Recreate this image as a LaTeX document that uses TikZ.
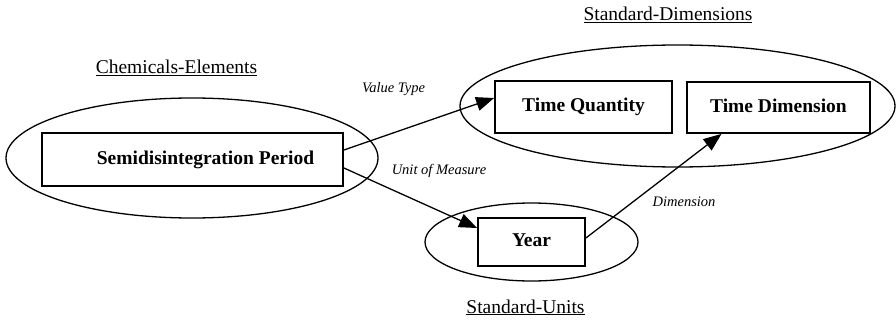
\documentclass[tikz,border=0pt]{standalone}
\usepackage{fontspec}
\setmainfont{Liberation Serif}
\usetikzlibrary{arrows.meta,shapes.geometric}
\begin{document}
\begin{tikzpicture}[x=1pt,y=-1pt,
  grp/.style={draw, ellipse, line width=1.3pt, inner sep=0pt},
  box/.style={draw, line width=1.8pt, inner sep=0pt, text height=13pt, text depth=4pt, font=\fontsize{19.5}{22}\selectfont\bfseries},
  lbl/.style={inner sep=0pt, anchor=base, font=\fontsize{19.5}{22}\selectfont},
  elbl/.style={inner sep=0pt, anchor=base, font=\fontsize{14.5}{17}\selectfont\itshape},
  arr/.style={-{Triangle[length=18pt,width=14pt]}, line width=1.3pt}]
\useasboundingbox (0,0) rectangle (896,321);
% groups
\node[grp, minimum width=372pt, minimum height=120pt] (ce) at (192,158) {};
\node[grp, minimum width=435pt, minimum height=122pt] (sd) at (677.5,106) {};
\node[grp, minimum width=213pt, minimum height=78pt] (su) at (531.5,242) {};
% boxes
\node[box, minimum width=301pt, minimum height=53pt] (sp) at (192.5,159.5) {\hspace*{26pt}Semidisintegration Period};
\node[box, minimum width=177pt, minimum height=52pt] (tq) at (583.5,107) {Time Quantity};
\node[box, minimum width=183pt, minimum height=51pt] (td) at (778.5,107.5) {Time Dimension};
\node[box, minimum width=107pt, minimum height=48pt] (yr) at (531.5,242) {Year};
% group labels
\node[lbl] (cel) at (176.5,74) {\underline{Chemicals-Elements}};
\node[lbl] (sdl) at (668,21) {\underline{Standard-Dimensions}};
\node[lbl] (sul) at (525.5,313) {\underline{Standard-Units}};
% connectors
\draw[arr] ([yshift=9.5pt]sp.east) -- ([yshift=9pt]tq.west);
\draw[arr] ([yshift=-8.5pt]sp.east) -- ([yshift=14pt]yr.west);
\draw[arr] ([yshift=4pt]yr.east) -- ([xshift=-57pt]td.south);
% connector labels
\node[elbl] (vt) at (393.5,92.5) {Value Type};
\node[elbl] (um) at (439,174) {Unit of Measure};
\node[elbl] (dm) at (684,206.5) {Dimension};
\end{tikzpicture}
\end{document}
